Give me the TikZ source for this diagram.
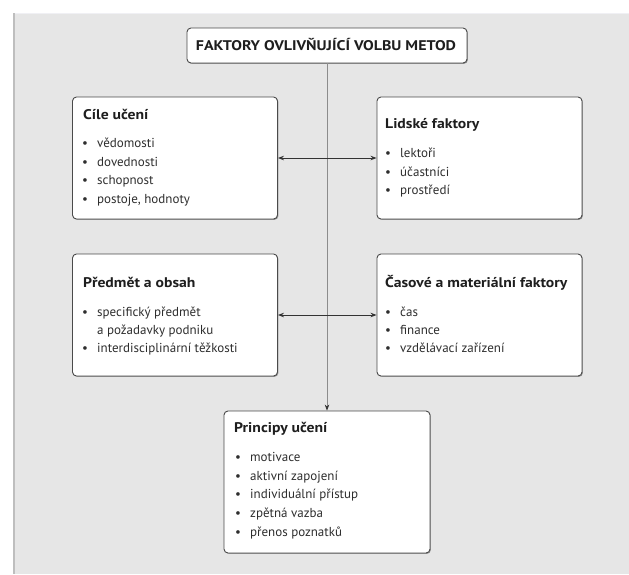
\documentclass[tikz,border=0pt]{standalone}
\usepackage{fontspec}
\usepackage{graphicx}
\setmainfont{PT Sans}
\usetikzlibrary{arrows.meta,shadows}
\definecolor{bgfill}{HTML}{E6E6E6}
\definecolor{bgedge}{HTML}{BEBEBE}
\definecolor{bgtop}{HTML}{F0F0F4}
\definecolor{boxline}{HTML}{4A4A4A}
\definecolor{conn}{HTML}{333333}
\definecolor{vline}{HTML}{8C8C8C}
\definecolor{txt}{HTML}{1E1E1E}
\definecolor{itemtxt}{HTML}{2E2E2E}
\newcommand\li[3]{\node[itemtext] (#1) at (#2) {\makebox[16pt][l]{\hspace{1pt}•}#3};}
\newcommand\lc[3]{\node[itemtext] (#1) at (#2) {\hspace{16pt}#3};}
\newcommand\btitle[1]{\scalebox{1.12}[1]{#1}}
\begin{document}
\begin{tikzpicture}[x=1pt,y=-1pt,
  box/.style={draw=boxline, fill=white, rounded corners=4pt, line width=0.9pt,
    drop shadow={shadow xshift=0.9pt, shadow yshift=-0.9pt, fill=black, opacity=0.35},
    inner sep=0pt},
  titletext/.style={anchor=base west, inner sep=0pt, text=txt, font=\fontsize{14}{16}\selectfont\bfseries},
  itemtext/.style={anchor=base west, inner sep=0pt, text=itemtxt, font=\fontsize{13}{15}\selectfont},
  hconn/.style={draw=conn, line width=0.9pt, {Stealth[length=6pt,width=4.5pt]}-{Stealth[length=6pt,width=4.5pt]}},
  vconn/.style={draw=vline, line width=0.6pt, -{Stealth[length=6pt,width=4.5pt,color=conn]}}
]
\useasboundingbox (0,0) rectangle (629,574);
\fill[white] (0,0) rectangle (629,574);
\fill[bgfill] (13,13) rectangle (629,574);
\draw[bgtop, line width=1.5pt] (13,13.5) -- (629,13.5);
\draw[bgedge, line width=2pt] (14,13) -- (14,574);

% boxes
\node[box, minimum width=280pt, minimum height=35pt] (top) at (327,45.5) {};
\node[box, minimum width=205pt, minimum height=122pt] (cile) at (175,158) {};
\node[box, minimum width=205pt, minimum height=122pt] (lidske) at (479.5,158) {};
\node[box, minimum width=205pt, minimum height=122pt] (predmet) at (175,315) {};
\node[box, minimum width=205pt, minimum height=122pt] (casove) at (479.5,315) {};
\node[box, minimum width=206pt, minimum height=142pt] (principy) at (327,482) {};

% connectors
\draw[vconn] (top.south) -- (principy.north);
\draw[hconn] (cile.east) -- (lidske.west);
\draw[hconn] (predmet.east) -- (casove.west);

% top title
\node[anchor=base, inner sep=0pt, text=txt, font=\fontsize{14}{16}\selectfont\bfseries] (toptext) at (326,50) {\scalebox{1.14}[1]{FAKTORY OVLIVŇUJÍCÍ VOLBU METOD}};

% Cíle učení
\node[titletext] (t1) at (83,119) {\btitle{Cíle učení}};
\li{a1}{81,147}{vědomosti}
\li{a2}{81,166}{dovednosti}
\li{a3}{81,184}{schopnost}
\li{a4}{81,203}{postoje, hodnoty}

% Lidské faktory
\node[titletext] (t2) at (385,128) {\btitle{Lidské faktory}};
\li{b1}{384,157}{lektoři}
\li{b2}{384,176}{účastníci}
\li{b3}{384,194}{prostředí}

% Předmět a obsah
\node[titletext] (t3) at (83,287) {\btitle{Předmět a obsah}};
\li{c1}{81,316}{specifický předmět}
\lc{c2}{81,334}{a požadavky podniku}
\li{c3}{81,352}{interdisciplinární těžkosti}

% Časové a materiální faktory
\node[titletext] (t4) at (385,287) {\btitle{Časové a materiální faktory}};
\li{d1}{384,316}{čas}
\li{d2}{384,334}{finance}
\li{d3}{384,352}{vzdělávací zařízení}

% Principy učení
\node[titletext] (t5) at (234,432) {\btitle{Principy učení}};
\li{e1}{234,461}{motivace}
\li{e2}{234,480}{aktivní zapojení}
\li{e3}{234,498}{individuální přístup}
\li{e4}{234,517}{zpětná vazba}
\li{e5}{234,536}{přenos poznatků}
\end{tikzpicture}
\end{document}
